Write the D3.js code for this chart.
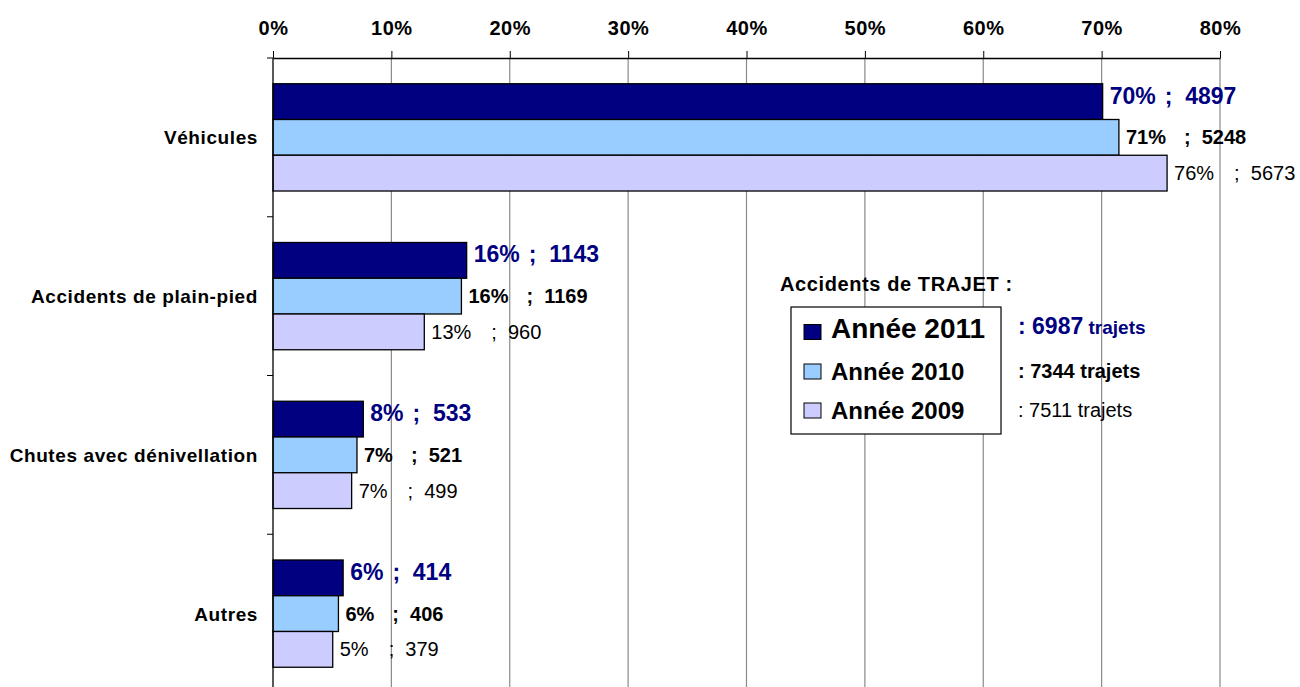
<!DOCTYPE html>
<html>
<head>
<meta charset="utf-8">
<script src="https://cdn.jsdelivr.net/npm/d3@7"></script>
<style>
  body { margin: 0; background: #fff; }
  svg { display: block; font-family: "Liberation Sans", Arial, sans-serif; }
  .lbl { white-space: pre; }
</style>
</head>
<body>
<script>
// données
var categories = ["Véhicules", "Accidents de plain-pied", "Chutes avec dénivellation", "Autres"]
var years = ["Année 2011", "Année 2010", "Année 2009"]
var counts2011 = [4897, 1143, 533, 414]
var counts2010 = [5248, 1169, 521, 406]
var counts2009 = [5673, 960, 499, 379]
var totals = [6987, 7344, 7511]
var xTicks = [0, 0.1, 0.2, 0.3, 0.4, 0.5, 0.6, 0.7, 0.8]
var legendTitle = "Accidents de TRAJET :"

var series = [counts2011, counts2010, counts2009]

// styles par année
var fills = ["#000080", "#99ccff", "#ccccff"]
var labelColors = ["#000080", "#000", "#000"]
var labelWeights = ["bold", "bold", "normal"]
var labelSizes = [23, 20, 20]
var labelDy = [2, 7, 7]
var countGap = [9, 18, 20]

var width = 1300
var height = 687
var top0 = 58

var x = d3.scaleLinear()
    .domain([0, 0.8])
    .range([273, 1220])

var y = d3.scaleBand()
    .domain(categories)
    .range([top0, 693])

var yYear = d3.scaleBand()
    .domain(years)
    .range([0, y.bandwidth()])
    .paddingOuter(0.72)

var svg = d3.select("body")
    .append("svg")
    .attr("width", width)
    .attr("height", height)

// grille verticale
svg.append("g")
    .selectAll("line")
    .data(xTicks.slice(1))
    .join("line")
    .attr("x1", d => x(d))
    .attr("x2", d => x(d))
    .attr("y1", top0)
    .attr("y2", height)
    .attr("stroke", "#8a8a8a")
    .attr("stroke-width", 1.2)

// barres
var bars = []
categories.forEach(function (c, i) {
    series.forEach(function (s, j) {
        bars.push({ cat: c, j: j, year: years[j], count: s[i], share: s[i] / totals[j] })
    })
})

var groups = svg.append("g")
    .selectAll("g")
    .data(categories)
    .join("g")
    .attr("transform", d => "translate(0," + y(d) + ")")

groups.selectAll("rect")
    .data((c, i) => bars.filter(b => b.cat === c))
    .join("rect")
    .attr("x", x(0))
    .attr("y", d => yYear(d.year))
    .attr("width", d => x(d.share) - x(0))
    .attr("height", yYear.bandwidth())
    .attr("fill", d => fills[d.j])
    .attr("stroke", "#000")
    .attr("stroke-width", 1.3)

// étiquettes des barres
var labels = groups.selectAll("g.lab")
    .data((c, i) => bars.filter(b => b.cat === c))
    .join("g")
    .attr("class", "lab")
    .attr("fill", d => labelColors[d.j])
    .attr("font-weight", d => labelWeights[d.j])
    .attr("font-size", d => labelSizes[d.j])

labels.append("text")
    .attr("class", "pct")
    .attr("x", d => x(d.share) + 7)
    .attr("y", d => yYear(d.year) + yYear.bandwidth() / 2 + labelDy[d.j])
    .text(d => Math.round(d.share * 100) + "%")

labels.append("text")
    .attr("class", "lbl cnt")
    .attr("y", d => yYear(d.year) + yYear.bandwidth() / 2 + labelDy[d.j])
    .text(d => ";  " + d.count)

labels.each(function (d) {
    var g = d3.select(this)
    var w = g.select(".pct").node().getComputedTextLength()
    g.select(".cnt").attr("x", x(d.share) + 7 + w + countGap[d.j])
})

// axe du haut
var axeX = d3.axisTop(x)
    .tickValues(xTicks)
    .tickSize(7)
    .tickSizeOuter(0)
    .tickPadding(16)
    .tickFormat(d3.format(".0%"))

var gx = svg.append("g")
    .attr("transform", "translate(0," + top0 + ")")
    .call(axeX)
gx.select(".domain").attr("stroke", "#000").attr("stroke-width", 1.3)
gx.selectAll(".tick line").attr("stroke", "#000")
gx.selectAll(".tick text")
    .attr("fill", "#000")
    .attr("font-family", "'Liberation Sans', Arial, sans-serif")
    .attr("font-size", 20)
    .attr("font-weight", "bold")
    .attr("letter-spacing", 0.5)

// axe vertical
var axeY = d3.axisLeft(y)
    .tickSize(0)
    .tickPadding(15)

var gy = svg.append("g")
    .attr("transform", "translate(" + x(0) + ",0)")
    .call(axeY)
gy.select(".domain").remove()
gy.selectAll(".tick text")
    .attr("fill", "#000")
    .attr("font-family", "'Liberation Sans', Arial, sans-serif")
    .attr("font-size", 19)
    .attr("font-weight", "bold")
    .attr("letter-spacing", 0.6)
    .attr("dy", 7)

svg.append("line")
    .attr("x1", x(0)).attr("x2", x(0))
    .attr("y1", top0).attr("y2", height)
    .attr("stroke", "#000")
    .attr("stroke-width", 1.3)

svg.append("g")
    .selectAll("line")
    .data(categories)
    .join("line")
    .attr("x1", x(0) - 6)
    .attr("x2", x(0))
    .attr("y1", d => y(d))
    .attr("y2", d => y(d))
    .attr("stroke", "#000")

// légende
svg.append("text")
    .attr("x", 780)
    .attr("y", 291)
    .attr("font-size", 20)
    .attr("font-weight", "bold")
    .attr("letter-spacing", 0.6)
    .text(legendTitle)

svg.append("rect")
    .attr("x", 791)
    .attr("y", 307)
    .attr("width", 210)
    .attr("height", 127)
    .attr("fill", "#fff")
    .attr("stroke", "#000")
    .attr("stroke-width", 1.2)

var legY = [332, 371.5, 410.5]
var legSizes = [28, 24, 24]

var leg = svg.append("g")
    .selectAll("g")
    .data(years)
    .join("g")
    .attr("transform", (d, j) => "translate(0," + legY[j] + ")")

leg.append("rect")
    .attr("x", 804)
    .attr("y", -7.5)
    .attr("width", 17)
    .attr("height", 15)
    .attr("fill", (d, j) => fills[j])
    .attr("stroke", "#000")
    .attr("stroke-width", 1)

leg.append("text")
    .attr("x", 831)
    .attr("y", (d, j) => j === 0 ? 6 : 8.5)
    .attr("font-size", (d, j) => legSizes[j])
    .attr("font-weight", "bold")
    .text(d => d)

// totaux
var tot = leg.append("text")
    .attr("class", "lbl")
    .attr("x", 1018)
    .attr("y", (d, j) => j === 0 ? 2 : 6.5)
    .attr("fill", (d, j) => labelColors[j])
    .attr("font-weight", (d, j) => labelWeights[j])
    .attr("font-size", 20)

tot.append("tspan")
    .attr("font-size", (d, j) => j === 0 ? 23 : 20)
    .text((d, j) => ": " + totals[j])
tot.append("tspan")
    .attr("font-size", (d, j) => j === 0 ? 19 : 20)
    .text(" trajets")
</script>
</body>
</html>
